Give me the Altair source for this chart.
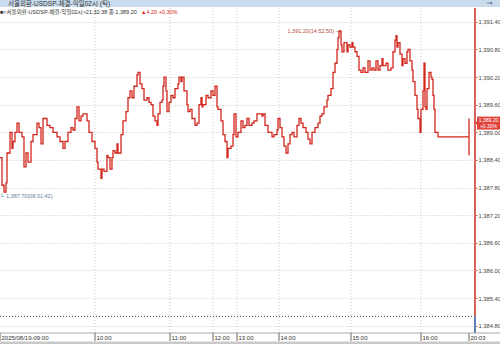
import altair as alt
import pandas as pd

tick_no = [0, 2, 4, 6, 7, 10, 12, 13, 15, 17, 19, 22, 24, 26, 28, 31, 33, 37, 39, 41,
           43, 47, 50, 53, 57, 60, 63, 65, 68, 71, 73, 75, 77, 79, 81, 83, 85, 87, 89, 92,
           95, 97, 98, 101, 102, 104, 107, 108, 110, 112, 113, 115, 117, 118, 121, 123, 126, 128, 130, 132,
           134, 137, 138, 140, 142, 144, 147, 149, 151, 153, 155, 157, 158, 160, 162, 163, 164, 166, 167, 169,
           171, 173, 175, 178, 179, 181, 182, 184, 187, 188, 190, 192, 195, 197, 199, 201, 202, 203, 206, 208,
           211, 213, 215, 217, 218, 221, 223, 225, 227, 228, 231, 233, 234, 236, 238, 241, 243, 245, 247, 249,
           252, 254, 257, 259, 262, 263, 265, 268, 272, 274, 277, 278, 280, 282, 284, 286, 288, 290, 292, 294,
           297, 299, 301, 303, 306, 308, 310, 312, 315, 318, 320, 322, 324, 327, 328, 331, 333, 335, 337, 338,
           339, 341, 342, 344, 347, 348, 350, 352, 353, 355, 357, 359, 361, 363, 365, 368, 370, 372, 374, 376,
           378, 380, 382, 383, 386, 388, 391, 393, 395, 396, 397, 398, 400, 402, 403, 405, 407, 408, 410, 412,
           413, 415, 417, 418, 420, 421, 423, 424, 425, 426, 427, 429, 431, 432, 433, 434, 435, 437, 438, 469,
           469, 469, 469]
price = [1388.45, 1387.85, 1387.70, 1387.90, 1388.55, 1389.00, 1388.65, 1388.80, 1389.00, 1389.20,
         1389.00, 1388.90, 1388.25, 1388.55, 1388.35, 1388.80, 1388.95, 1389.20, 1389.10, 1388.75,
         1389.30, 1389.15, 1389.10, 1389.00, 1388.90, 1388.80, 1388.65, 1388.80, 1389.00, 1389.10,
         1389.05, 1389.30, 1389.55, 1389.25, 1389.35, 1389.40, 1389.40, 1389.25, 1389.00, 1388.80,
         1388.65, 1388.35, 1388.20, 1388.00, 1388.20, 1388.15, 1388.50, 1388.45, 1388.20, 1388.45,
         1388.60, 1388.55, 1388.75, 1388.55, 1388.95, 1389.25, 1389.45, 1389.75, 1389.90, 1389.75,
         1390.00, 1390.25, 1390.30, 1390.05, 1389.95, 1389.70, 1389.75, 1389.65, 1389.60, 1389.35,
         1389.25, 1389.15, 1389.40, 1389.65, 1389.70, 1390.00, 1390.20, 1389.90, 1389.45, 1389.65,
         1389.80, 1389.75, 1389.95, 1390.05, 1390.20, 1390.10, 1390.20, 1389.90, 1389.60, 1389.45,
         1389.50, 1389.30, 1389.15, 1389.20, 1389.60, 1389.75, 1389.55, 1389.60, 1389.80, 1389.75,
         1389.90, 1389.80, 1390.00, 1389.55, 1389.50, 1389.25, 1388.95, 1388.80, 1388.45, 1388.65,
         1388.70, 1388.95, 1389.40, 1388.90, 1389.00, 1389.25, 1389.10, 1389.15, 1389.30, 1389.15,
         1389.20, 1389.25, 1389.40, 1389.40, 1389.35, 1389.40, 1389.15, 1389.00, 1388.90, 1388.95,
         1389.05, 1389.30, 1389.10, 1388.90, 1388.70, 1388.55, 1388.75, 1388.95, 1389.00, 1388.90,
         1389.15, 1389.30, 1389.20, 1389.10, 1389.00, 1388.85, 1388.75, 1389.00, 1389.10, 1389.20,
         1389.35, 1389.40, 1389.55, 1389.70, 1389.80, 1389.95, 1390.30, 1390.50, 1390.80, 1391.05,
         1391.20, 1390.90, 1390.75, 1390.95, 1390.75, 1390.90, 1390.85, 1390.95, 1390.85, 1390.75,
         1390.65, 1390.35, 1390.30, 1390.40, 1390.30, 1390.55, 1390.35, 1390.40, 1390.35, 1390.55,
         1390.35, 1390.45, 1390.60, 1390.45, 1390.50, 1390.35, 1390.40, 1390.75, 1391.00, 1391.10,
         1390.85, 1390.95, 1390.70, 1390.45, 1390.60, 1390.50, 1390.75, 1390.80, 1390.55, 1390.35,
         1390.10, 1389.80, 1389.50, 1389.30, 1389.00, 1389.50, 1389.90, 1390.50, 1389.55, 1389.50,
         1389.95, 1390.30, 1390.20, 1390.15, 1389.80, 1389.50, 1389.00, 1389.00, 1388.90, 1388.90,
         1389.30, 1388.50, 1389.20]

time_ticks = [0, 95, 170, 213, 237, 279, 351, 421, 469]
time_labels = ["2025/08/19-09:00", "10:00", "11:00", "12:00", "13:00", "14:00", "15:00", "16:00", "20:03"]
y_ticks = [1384.80, 1385.40, 1386.00, 1386.60, 1387.20, 1387.80, 1388.40, 1389.00,
           1389.60, 1390.20, 1390.80, 1391.40]
prev_close = [1385.00]
last_price = [1389.20]
high_point = {"tick": [339], "price": [1391.20], "label": ["1,391.20(14:52:50)"]}
low_point = {"tick": [2], "price": [1387.70], "label": ["1,387.70(09:01:42)"]}
header_main = "■<서울외환-USDSP-체결-익일02시>21:32:38 종:1,389.20"
header_change = "▲4.20  +0.30%"
window_title = "서울외환-USDSP-체결-익일02시 (틱)"
tag_line1 = "1,389.20"
tag_line2 = "+0.30%"

FONT = "Liberation Sans, Arial, Noto Sans CJK KR, sans-serif"
RED = "#d3261c"
AXIS_RED = "#d6625a"
BLUE = "#5b80b4"

W, H = 475, 325
xs = alt.Scale(domain=[0, 475], nice=False, zero=False)
ys = alt.Scale(domain=[1384.64, 1391.70], nice=False, zero=False)

df = pd.DataFrame({"tick": tick_no, "price": price, "seq": list(range(len(price)))})
ticks_df = pd.DataFrame({"tick": time_ticks, "label": time_labels})
grid_df = pd.DataFrame({"tick": time_ticks[1:-1]})
prev_df = pd.DataFrame({"price": prev_close})
last_df = pd.DataFrame({"price": last_price})
hi_df = pd.DataFrame(high_point)
lo_df = pd.DataFrame(low_point)
one = pd.DataFrame({"k": [0]})

X = alt.X("tick:Q", scale=xs, axis=None)
Y = alt.Y("price:Q", scale=ys, title=None,
          axis=alt.Axis(orient="right", values=y_ticks, format=",.2f", labelFontSize=5.8,
                        labelFont=FONT, labelColor="#444", domain=False, ticks=True,
                        tickSize=2, tickColor=AXIS_RED, labelPadding=1, grid=True,
                        gridDash=[1, 2], gridColor="#c8c8c8", gridWidth=1))

line = alt.Chart(df).mark_line(color=RED, strokeWidth=1.3, interpolate="step-after").encode(
    x=X, y=Y, order="seq:Q")

vgrid = alt.Chart(grid_df).mark_rule(color="#c8c8c8", strokeDash=[1, 2], strokeWidth=1).encode(
    x=X, y=alt.value(0), y2=alt.value(H))

prev_line = alt.Chart(prev_df).mark_rule(color="#555", strokeDash=[1, 2], strokeWidth=1).encode(
    y=Y, x=alt.value(0), x2=alt.value(W))

axis_red = alt.Chart(prev_df).mark_rule(color=AXIS_RED, strokeWidth=2).encode(
    x=alt.value(W), y=Y, y2=alt.value(0))
axis_blue = alt.Chart(prev_df).mark_rule(color=BLUE, strokeWidth=2).encode(
    x=alt.value(W), y=Y, y2=alt.value(H))

x_domain = alt.Chart(one).mark_rule(color="#a8a8a8", strokeWidth=1).encode(
    y=alt.value(H), x=alt.value(0), x2=alt.value(500))
x_tickmarks = alt.Chart(ticks_df).mark_rule(color="#666", strokeWidth=1).encode(
    x=X, y=alt.value(H), y2=alt.value(H + 8))
x_labels = alt.Chart(ticks_df).mark_text(align="left", baseline="middle", dx=1.5, fontSize=6,
                                         font=FONT, color="#333").encode(
    x=X, y=alt.value(H + 5), text="label:N")
scrollbar = alt.Chart(one).mark_rule(color="#c9c9c9", strokeWidth=3).encode(
    x=alt.value(0), x2=alt.value(500), y=alt.value(H + 10))

hi_text = alt.Chart(hi_df).mark_text(align="right", baseline="middle", dx=-5, fontSize=5.5,
                                     font=FONT, color="#b9493f").encode(
    x=X, y=Y, text="label:N")
hi_dash = alt.Chart(hi_df).mark_text(align="right", baseline="middle", dx=0, fontSize=6,
                                     font=FONT, color="#8a4a44").encode(
    x=X, y=Y, text=alt.value("–"))
lo_text = alt.Chart(lo_df).mark_text(align="left", baseline="middle", dx=4, dy=4, fontSize=5.5,
                                     font=FONT, color="#5d7b9a").encode(
    x=X, y=Y, text="label:N")
lo_mark = alt.Chart(lo_df).mark_text(align="left", baseline="middle", dx=-1, dy=3, fontSize=6,
                                     font=FONT, color="#5d7b9a").encode(
    x=X, y=Y, text=alt.value("L"))

tag_box = alt.Chart(last_df).mark_rule(color="#e0443b", strokeWidth=13).encode(
    x=alt.value(W + 2), x2=alt.value(W + 25), y=Y)
tag_arrow = alt.Chart(last_df).mark_point(shape="triangle-left", filled=True, color="#e0443b",
                                          size=16, opacity=1).encode(x=alt.value(W + 1), y=Y)
tag_t1 = alt.Chart(last_df).mark_text(align="center", baseline="middle", fontSize=5, font=FONT,
                                      color="white", dy=-3).encode(
    x=alt.value(W + 13.5), y=Y, text=alt.value(tag_line1))
tag_t2 = alt.Chart(last_df).mark_text(align="center", baseline="middle", fontSize=5, font=FONT,
                                      color="white", dy=3).encode(
    x=alt.value(W + 13.5), y=Y, text=alt.value(tag_line2))

title_bar = alt.Chart(one).mark_rule(color="#c9dcee", strokeWidth=7).encode(
    x=alt.value(0), x2=alt.value(500), y=alt.value(-4.5))
title_txt = alt.Chart(one).mark_text(align="left", baseline="alphabetic", fontSize=6.5, font=FONT,
                                     color="#333").encode(
    x=alt.value(8), y=alt.value(-2.5), text=alt.value(window_title))
win_icon = alt.Chart(one).mark_text(align="left", baseline="alphabetic", fontSize=6, font=FONT,
                                    color="#333").encode(
    x=alt.value(487), y=alt.value(-3), text=alt.value("▫×"))
hdr_main = alt.Chart(one).mark_text(align="left", baseline="middle", fontSize=5.5, font=FONT,
                                    color="#333").encode(
    x=alt.value(0), y=alt.value(3.5), text=alt.value(header_main))
hdr_chg = alt.Chart(one).mark_text(align="left", baseline="middle", fontSize=5.5, font=FONT,
                                   color="#d3261c").encode(
    x=alt.value(141), y=alt.value(3.5), text=alt.value(header_change))

chart = alt.layer(
    vgrid, prev_line, line, axis_red, axis_blue, x_domain, x_tickmarks, x_labels, scrollbar,
    hi_text, hi_dash, lo_text, lo_mark, tag_box, tag_arrow, tag_t1, tag_t2,
    title_bar, title_txt, win_icon, hdr_main, hdr_chg,
).properties(
    width=W, height=H,
    autosize=alt.AutoSizeParams(type="none"),
    padding={"left": 0, "top": 8, "right": 25, "bottom": 11},
    background="white",
).configure_view(stroke=None)

chart.save("out.html", embed_options={"renderer": "svg", "actions": False})
